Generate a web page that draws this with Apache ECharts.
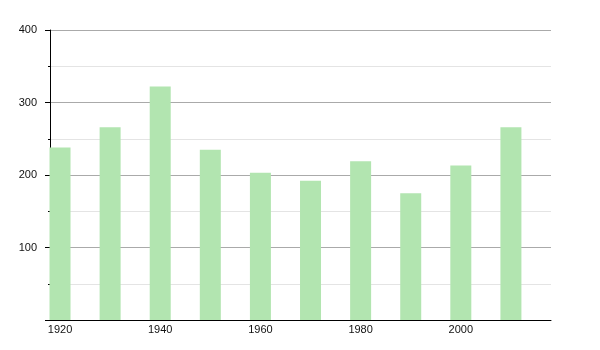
<!DOCTYPE html>
<html>
<head>
<meta charset="utf-8">
<script src="https://cdn.jsdelivr.net/npm/echarts@6/dist/echarts.min.js"></script>
<style>html,body{margin:0;padding:0;background:#fff}#c{width:600px;height:350px}</style>
</head>
<body>
<div id="c"></div>
<script>
const years = [1920, 1930, 1940, 1950, 1960, 1970, 1980, 1990, 2000, 2010];
const values = [238, 266, 322, 235, 203, 192, 219, 175, 213, 266];
const xTickLabels = [1920, 1940, 1960, 1980, 2000];

const chart = echarts.init(document.getElementById('c'), null, {renderer: 'canvas'});
chart.setOption({
  animation: false,
  backgroundColor: '#fff',
  textStyle: {fontFamily: 'Liberation Sans'},
  grid: {left: 50, right: 49, top: 30, bottom: 30, containLabel: false},
  xAxis: {
    type: 'value', min: 1918, max: 2018,
    axisLine: {show: true, onZero: false, lineStyle: {color: '#000', width: 1}},
    axisTick: {show: false},
    splitLine: {show: false},
    axisLabel: {customValues: xTickLabels, formatter: v => String(v), color: '#111', fontSize: 11, margin: 4, fontFamily: 'Liberation Sans'}
  },
  yAxis: {
    type: 'value', min: 0, max: 400, interval: 100,
    axisLine: {show: true, lineStyle: {color: '#000', width: 1}},
    axisTick: {show: true, length: 5, lineStyle: {color: '#000'}},
    minorTick: {show: true, splitNumber: 2, length: 2, lineStyle: {color: '#000'}},
    splitLine: {show: true, lineStyle: {color: '#aaa', width: 1}},
    minorSplitLine: {show: true, lineStyle: {color: '#e4e4e4', width: 1}},
    axisLabel: {showMinLabel: false, formatter: v => String(v), color: '#111', fontSize: 11, margin: 13, fontFamily: 'Liberation Sans'}
  },
  series: [{
    type: 'bar',
    barWidth: 21,
    itemStyle: {color: '#b2e5b0'},
    data: years.map((y, i) => [y, values[i]])
  }]
});
</script>
</body>
</html>
